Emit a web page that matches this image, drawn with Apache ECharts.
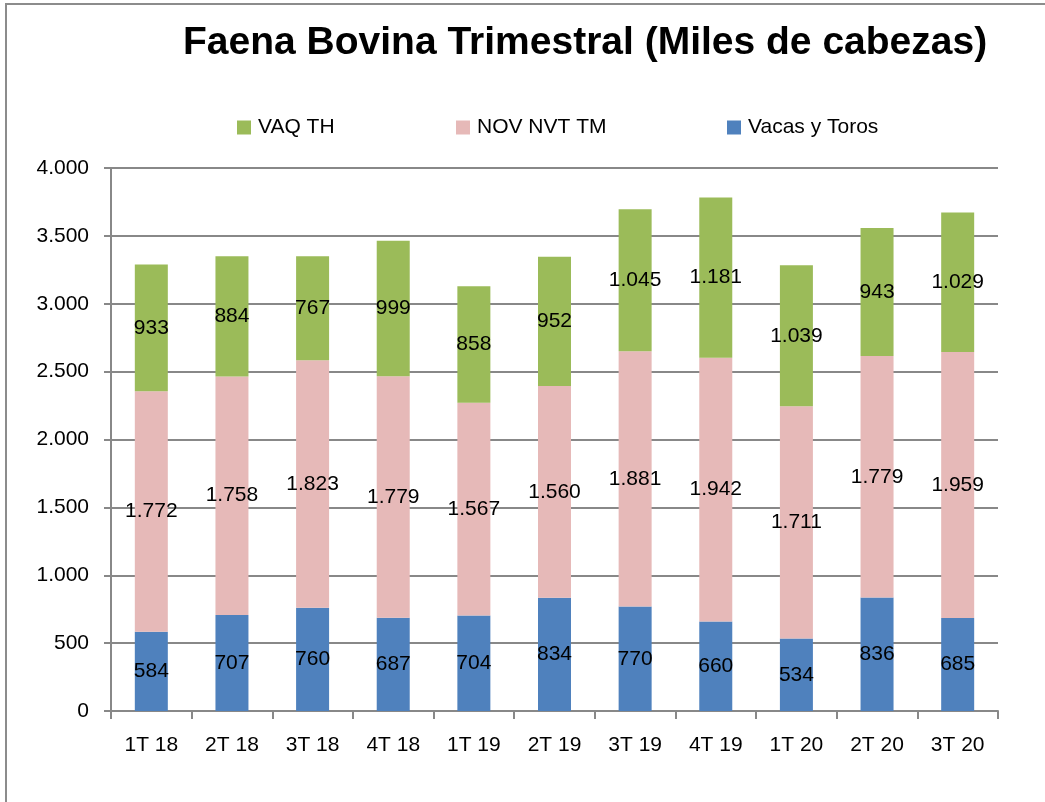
<!DOCTYPE html>
<html><head><meta charset="utf-8">
<script src="https://cdn.jsdelivr.net/npm/echarts@6/dist/echarts.min.js"></script>
<style>html,body{margin:0;padding:0;background:#fff}#c{width:1045px;height:802px}</style>
</head><body><div id="c"></div>
<script>
const categories = ['1T 18','2T 18','3T 18','4T 18','1T 19','2T 19','3T 19','4T 19','1T 20','2T 20','3T 20'];
const vacasToros = [584,707,760,687,704,834,770,660,534,836,685];
const novNvtTm = [1772,1758,1823,1779,1567,1560,1881,1942,1711,1779,1959];
const vaqTh = [933,884,767,999,858,952,1045,1181,1039,943,1029];
const yTicks = [0,500,1000,1500,2000,2500,3000,3500,4000];

const FONT = '"Liberation Sans Narrow","Arial Narrow","Liberation Sans",sans-serif';
const fmt = v => String(v).replace(/\B(?=(\d{3})+(?!\d))/g, '.');
const chart = echarts.init(document.getElementById('c'));
const lbl = {show:true, position:'inside', color:'#000', fontFamily:FONT, fontSize:21, formatter:p=>fmt(p.value)};
function legend(name, left){
  return {data:[name], left:left, top:112, itemWidth:14, itemHeight:14, icon:'rect', itemGap:0,
    textStyle:{fontFamily:FONT, fontSize:21, color:'#000', padding:[0,0,0,2]}, selectedMode:false};
}
chart.setOption({
  animation:false,
  graphic:[{type:'rect', shape:{x:6, y:4, width:1200, height:1000}, style:{fill:'none', stroke:'#8c8c8c', lineWidth:2}, silent:true}],
  title:{text:'Faena Bovina Trimestral (Miles de cabezas)', left:178, top:19,
    textStyle:{fontFamily:FONT, fontWeight:'bold', fontSize:39, color:'#000'}},
  legend:[legend('VAQ TH',232), legend('NOV NVT TM',451), legend('Vacas y Toros',722)],
  grid:{left:111, right:47, top:168, bottom:91, containLabel:false},
  xAxis:{type:'category', data:categories,
    axisLine:{lineStyle:{color:'#888', width:2}},
    axisTick:{show:true, length:8, lineStyle:{color:'#888', width:2}},
    axisLabel:{color:'#000', fontFamily:FONT, fontSize:21, margin:24}},
  yAxis:{type:'value', min:0, max:4000, interval:500,
    axisLine:{show:true, lineStyle:{color:'#888', width:2}},
    axisTick:{show:true, length:7, lineStyle:{color:'#888', width:2}},
    splitLine:{lineStyle:{color:'#888', width:2}},
    axisLabel:{color:'#000', fontFamily:FONT, fontSize:21, margin:22, formatter:v=>yTicks.includes(v)?fmt(v):''}},
  series:[
    {name:'Vacas y Toros', type:'bar', stack:'t', data:vacasToros, barWidth:33, itemStyle:{color:'#4F81BD'}, label:lbl},
    {name:'NOV NVT TM', type:'bar', stack:'t', data:novNvtTm, barWidth:33, itemStyle:{color:'#E6B9B8'}, label:lbl},
    {name:'VAQ TH', type:'bar', stack:'t', data:vaqTh, barWidth:33, itemStyle:{color:'#9BBB59'}, label:lbl}
  ]
});
</script></body></html>
